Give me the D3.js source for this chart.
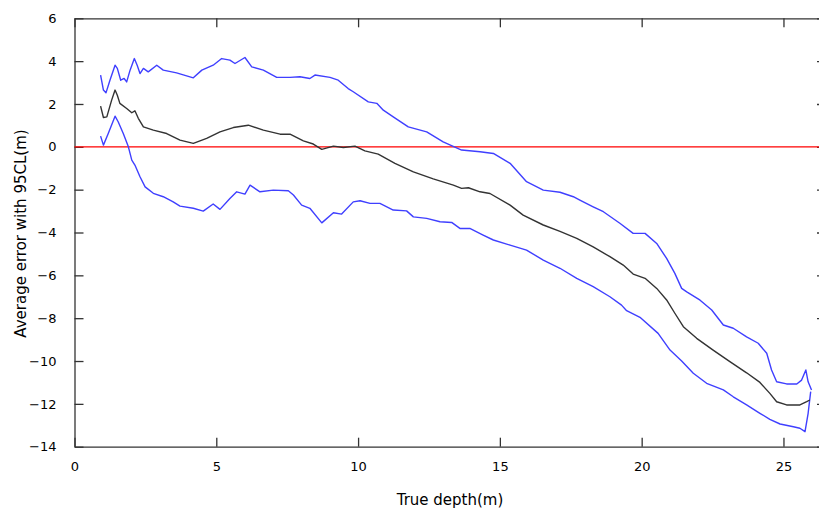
<!DOCTYPE html>
<html><head><meta charset="utf-8">
<script src="https://cdn.jsdelivr.net/npm/d3@7"></script>
<style>body{margin:0;background:#fff}svg{display:block}text{font-family:"DejaVu Sans",Verdana,sans-serif}</style>
</head><body><svg id="c" width="819" height="511"></svg>
<script>
// Data (x = true depth m, y = error m)
const upperX = [0.92,1.02,1.11,1.25,1.43,1.51,1.63,1.75,1.84,1.96,2.11,2.21,2.31,2.43,2.60,2.90,3.13,3.60,4.19,4.49,4.89,5.19,5.48,5.66,6.01,6.25,6.66,7.13,7.60,7.95,8.30,8.48,9.01,9.30,9.65,9.83,10.36,10.66,10.89,11.24,11.77,12.42,13.00,13.65,14.30,14.77,15.36,15.94,16.53,17.12,17.59,17.82,18.29,18.65,19.23,19.70,20.12,20.53,20.88,21.17,21.41,21.59,22.06,22.47,22.88,23.23,23.70,24.11,24.41,24.58,24.76,25.11,25.47,25.64,25.79,25.87,25.99];
const upperY = [3.35,2.65,2.52,3.11,3.81,3.66,3.11,3.19,3.03,3.58,4.12,3.81,3.42,3.66,3.50,3.81,3.58,3.45,3.22,3.58,3.81,4.12,4.05,3.89,4.17,3.73,3.58,3.24,3.24,3.27,3.19,3.35,3.24,3.11,2.72,2.57,2.10,2.03,1.71,1.40,0.93,0.70,0.23,-0.15,-0.23,-0.31,-0.77,-1.63,-2.02,-2.12,-2.33,-2.49,-2.80,-3.03,-3.57,-4.04,-4.04,-4.51,-5.21,-5.91,-6.61,-6.77,-7.16,-7.62,-8.32,-8.47,-8.87,-9.17,-9.64,-10.42,-10.97,-11.07,-11.07,-10.89,-10.42,-10.97,-11.35];
const meanX = [0.92,1.02,1.14,1.31,1.43,1.51,1.60,1.84,2.02,2.13,2.25,2.43,2.78,3.25,3.72,4.19,4.66,5.13,5.60,6.13,6.66,7.25,7.60,8.07,8.42,8.72,9.13,9.48,9.89,10.24,10.71,11.30,11.95,12.65,13.36,13.65,13.89,14.30,14.65,15.36,15.82,16.53,17.12,17.71,18.29,18.88,19.35,19.70,20.12,20.53,20.88,21.17,21.47,21.94,22.52,23.11,23.70,24.17,24.52,24.76,25.11,25.58,25.82,25.93];
const meanY = [1.90,1.37,1.40,2.18,2.65,2.41,2.03,1.79,1.59,1.68,1.33,0.93,0.78,0.62,0.31,0.16,0.39,0.70,0.90,1.01,0.78,0.59,0.59,0.28,0.13,-0.12,0.03,-0.03,0.03,-0.19,-0.34,-0.77,-1.17,-1.50,-1.79,-1.94,-1.91,-2.10,-2.18,-2.72,-3.19,-3.65,-3.95,-4.27,-4.67,-5.13,-5.52,-5.94,-6.14,-6.61,-7.15,-7.77,-8.40,-8.94,-9.49,-10.03,-10.55,-11.00,-11.51,-11.90,-12.05,-12.05,-11.90,-11.82];
const lowerX = [0.92,1.02,1.19,1.43,1.54,1.72,1.90,2.02,2.13,2.31,2.49,2.78,3.13,3.48,3.72,4.19,4.54,4.89,5.13,5.48,5.72,6.01,6.19,6.54,7.01,7.54,7.72,8.01,8.30,8.72,9.13,9.42,9.83,10.07,10.42,10.77,11.24,11.71,11.95,12.42,12.89,13.30,13.59,13.94,14.41,14.77,15.36,15.94,16.53,17.12,17.71,18.29,18.88,19.29,19.47,19.94,20.58,21.00,21.41,21.82,22.29,22.88,23.23,23.70,24.17,24.52,24.88,25.35,25.58,25.76,25.87,25.96];
const lowerY = [0.50,0.08,0.62,1.43,1.17,0.62,0.00,-0.62,-0.85,-1.40,-1.87,-2.17,-2.33,-2.57,-2.77,-2.87,-3.00,-2.67,-2.92,-2.41,-2.10,-2.21,-1.79,-2.10,-2.02,-2.05,-2.25,-2.72,-2.87,-3.55,-3.08,-3.14,-2.57,-2.52,-2.64,-2.64,-2.95,-2.99,-3.27,-3.34,-3.50,-3.53,-3.81,-3.81,-4.12,-4.35,-4.59,-4.82,-5.29,-5.67,-6.14,-6.53,-7.00,-7.39,-7.65,-7.96,-8.71,-9.49,-10.00,-10.57,-11.04,-11.35,-11.67,-12.05,-12.44,-12.72,-12.94,-13.07,-13.14,-13.30,-12.44,-11.43];
const xTicks = [0,5,10,15,20,25];
const yTicks = [6,4,2,0,-2,-4,-6,-8,-10,-12,-14];
const xTitle = "True depth(m)";
const yTitle = "Average error with 95CL(m)";

const svg = d3.select("#c");
const L = 74.5, R = 826, T = 18.3, B = 446.7;
const x = d3.scaleLinear().domain([0, 26.5]).range([L, R]);
const y = d3.scaleLinear().domain([-14, 6]).range([B, T]);
const axisCol = "#333";

// axes with inward ticks on all four sides
const gB = svg.append("g").attr("transform", `translate(0,${B})`)
  .call(d3.axisBottom(x).tickValues(xTicks).tickSize(-9).tickPadding(15).tickSizeOuter(0));
const gT = svg.append("g").attr("transform", `translate(0,${T})`)
  .call(d3.axisTop(x).tickValues(xTicks).tickSize(-9).tickFormat("").tickSizeOuter(0));
const gL = svg.append("g").attr("transform", `translate(${L},0)`)
  .call(d3.axisLeft(y).tickValues(yTicks).tickSize(-9).tickPadding(18).tickSizeOuter(0));
const gR = svg.append("g").attr("transform", `translate(${R},0)`)
  .call(d3.axisRight(y).tickValues(yTicks).tickSize(-9).tickFormat("").tickSizeOuter(0));
[gB, gT, gL, gR].forEach(g => {
  g.selectAll("path.domain").attr("stroke", axisCol).attr("stroke-width", 1.3);
  g.selectAll("line").attr("stroke", axisCol).attr("stroke-width", 1.3);
  g.selectAll("text").attr("fill", "#000").style("font-size", "13px").style("font-family", '"DejaVu Sans", Verdana, sans-serif');
});

// zero line
svg.append("line").attr("x1", L).attr("x2", R).attr("y1", y(0)).attr("y2", y(0))
  .attr("stroke", "#ff0000").attr("stroke-width", 1.2);

const line = d3.line().x(d => x(d[0])).y(d => y(d[1]));
const series = [
  {xs: upperX, ys: upperY, c: "#3f3fff"},
  {xs: lowerX, ys: lowerY, c: "#3f3fff"},
  {xs: meanX, ys: meanY, c: "#333333"}
];
series.forEach(s => {
  svg.append("path").datum(s.xs.map((v, i) => [v, s.ys[i]]))
    .attr("d", line).attr("fill", "none").attr("stroke", s.c)
    .attr("stroke-width", 1.4).attr("stroke-linejoin", "round");
});

svg.append("text").attr("x", 450).attr("y", 505).attr("text-anchor", "middle")
  .style("font-size", "15px").attr("fill", "#000").text(xTitle);
svg.append("text").attr("transform", `translate(26,233.5) rotate(-90)`).attr("text-anchor", "middle")
  .style("font-size", "15px").attr("fill", "#000").text(yTitle);
</script></body></html>
